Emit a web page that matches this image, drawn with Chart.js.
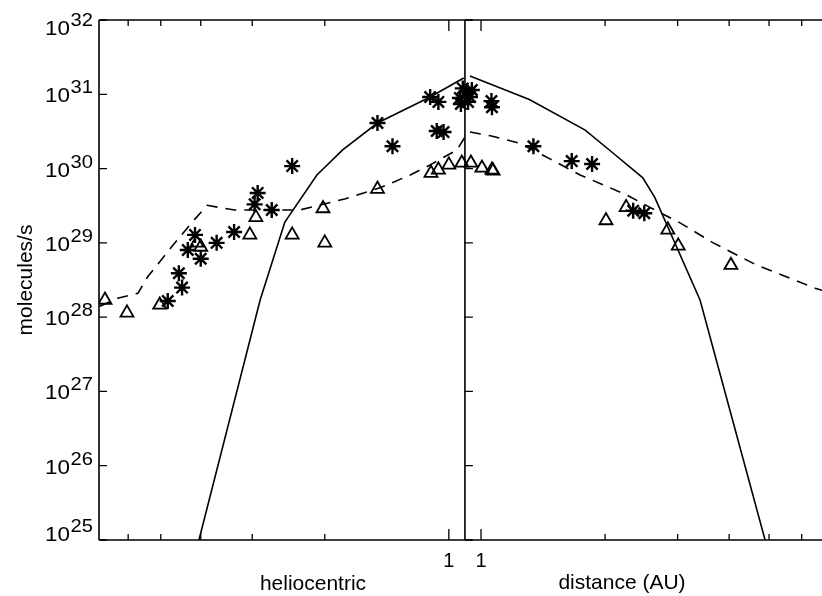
<!DOCTYPE html>
<html>
<head>
<meta charset="utf-8">
<script src="https://cdn.jsdelivr.net/npm/chart.js@4.4.0/dist/chart.umd.min.js"></script>
<style>
  html, body { margin: 0; padding: 0; background: #fff; overflow: hidden; }
  #myChart { display: block; }
</style>
</head>
<body>
<canvas id="myChart" width="822" height="596"></canvas>
<script>
// perihelion distance (AU): both halves of the x axis start from it
const perihelion = 0.914;

// model, solid line (r in AU, Q in molecules/s)
const modelPreR = [0.92, 1.11, 1.49, 1.81, 2.09, 2.50, 2.87, 4.04];
const modelPreQ = [1.66e31, 9.2e30, 4.1e30, 1.78e30, 8.2e29, 1.91e29, 1.7e28, 1e25];
const modelPostR = [0.94, 1.31, 1.79, 2.09, 2.47, 2.64, 3.40, 4.89];
const modelPostQ = [1.76e31, 8.5e30, 3.3e30, 1.62e30, 7.5e29, 4.1e29, 1.7e28, 1e25];

// dashed line
const fitPreR = [0.916, 0.956, 1.11, 1.24, 1.47, 1.79, 2.30, 3.31, 3.86, 4.21, 4.62, 5.38, 5.68, 6.36, 7.07];
const fitPreQ = [2.6e30, 1.78e30, 1.12e30, 8.2e29, 5.5e29, 3.9e29, 2.77e29, 2.77e29, 3.2e29, 1.86e29, 1.0e29, 3.5e28, 2.1e28, 1.8e28, 1.38e28];
const fitPostR = [0.94, 1.06, 1.24, 1.47, 1.74, 2.26, 2.57, 3.04, 3.66, 4.67, 6.47, 6.72];
const fitPostQ = [3.1e30, 2.75e30, 2.2e30, 1.35e30, 8.2e29, 4.4e29, 3.0e29, 1.86e29, 1.0e29, 5.0e28, 2.45e28, 2.3e28];

// asterisks
const starPreR = [2.40, 2.91, 2.96, 2.69, 3.32, 3.66, 4.13, 4.30, 4.00, 4.52, 4.44, 4.81, 1.49, 1.37, 1.11, 1.06, 1.07, 1.03, 0.94, 0.925, 0.935];
const starPreQ = [1.08e30, 4.7e29, 3.3e29, 2.77e29, 1.4e29, 1.0e29, 1.28e29, 8.0e28, 6.1e28, 3.9e28, 2.5e28, 1.65e28, 4.1e30, 2.0e30, 9.2e30, 7.9e30, 3.2e30, 3.1e30, 8.9e30, 1.2e31, 7.4e30];
const starPostR = [0.925, 0.94, 0.95, 0.93, 1.06, 1.063, 1.34, 1.66, 1.86, 2.34, 2.49];
const starPostQ = [1.07e31, 9.2e30, 1.14e31, 7.9e30, 8.1e30, 6.7e30, 2.0e30, 1.26e30, 1.15e30, 2.7e29, 2.5e29];

// triangles
const triPreR = [6.83, 6.04, 5.03, 4.09, 4.00, 3.04, 2.94, 2.40, 2.02, 2.00, 1.49, 1.105, 1.06, 1.00, 0.93];
const triPreQ = [1.7e28, 1.14e28, 1.46e28, 1.0e29, 8.8e28, 1.28e29, 2.2e29, 1.28e29, 2.9e29, 1.0e29, 5.3e29, 8.7e29, 9.6e29, 1.12e30, 1.19e30];
const triPostR = [0.945, 1.005, 1.063, 1.07, 2.01, 2.25, 2.84, 3.01, 4.04];
const triPostQ = [1.19e30, 1.02e30, 9.6e29, 9.3e29, 2.0e29, 3.0e29, 1.5e29, 9.1e28, 5.0e28];

const yTickExp = [25, 26, 27, 28, 29, 30, 31, 32];
const xTickR = [1, 2, 3, 4, 5, 6];
const xLabelR = [1];

const FONT = '"Liberation Sans", Arial, Helvetica, sans-serif';

// pre-perihelion goes to the left, post-perihelion to the right
function toU(r, side) {
    return side * Math.log10(r / perihelion);
}

function pontos(rs, qs, side) {
    const out = [];
    for (let i = 0; i < rs.length; i++) {
        out.push({ x: toU(rs[i], side), y: qs[i] });
    }
    return out;
}

const axesPlugin = {
    id: 'axesPlugin',
    afterDraw(chart) {
        const ctx = chart.ctx;
        const a = chart.chartArea;
        const sx = chart.scales.x;
        const sy = chart.scales.y;
        const mid = sx.getPixelForValue(0);

        ctx.save();
        ctx.strokeStyle = '#000';
        ctx.lineWidth = 1.6;
        ctx.beginPath();
        ctx.moveTo(a.left, a.top); ctx.lineTo(a.right, a.top);
        ctx.moveTo(a.left, a.bottom); ctx.lineTo(a.right, a.bottom);
        ctx.moveTo(a.left, a.top); ctx.lineTo(a.left, a.bottom);
        ctx.moveTo(mid, a.top); ctx.lineTo(mid, a.bottom);
        ctx.stroke();

        // inward ticks
        ctx.lineWidth = 1.3;
        ctx.beginPath();
        yTickExp.forEach(function (e) {
            const py = sy.getPixelForValue(Math.pow(10, e));
            ctx.moveTo(a.left, py); ctx.lineTo(a.left + 8, py);
            ctx.moveTo(mid, py); ctx.lineTo(mid + 8, py);
        });
        [-1, 1].forEach(function (side) {
            xTickR.forEach(function (r) {
                const px = sx.getPixelForValue(toU(r, side));
                const len = r === 1 ? 11 : 6;
                ctx.moveTo(px, a.bottom); ctx.lineTo(px, a.bottom - len);
                ctx.moveTo(px, a.top); ctx.lineTo(px, a.top + len);
            });
        });
        ctx.stroke();

        // y tick labels 10^n, a bit wider like the printed original
        ctx.fillStyle = '#000';
        ctx.textAlign = 'left';
        ctx.textBaseline = 'alphabetic';
        yTickExp.forEach(function (e) {
            const py = sy.getPixelForValue(Math.pow(10, e));
            let base = py + 8;
            if (base < a.top + 15) base = a.top + 15;
            if (base > a.bottom + 1) base = a.bottom + 1;
            ctx.save();
            ctx.translate(45, base);
            ctx.scale(1.12, 1);
            ctx.font = '20px ' + FONT;
            ctx.fillText('10', 0, 0);
            const w = ctx.measureText('10').width;
            ctx.font = '18px ' + FONT;
            ctx.fillText(String(e), w + 0.5, -9);
            ctx.restore();
        });

        // x tick labels
        ctx.font = '20px ' + FONT;
        ctx.textAlign = 'center';
        [-1, 1].forEach(function (side) {
            xLabelR.forEach(function (r) {
                const px = sx.getPixelForValue(toU(r, side));
                ctx.fillText(String(r), px, 567);
            });
        });

        // axis titles
        ctx.font = '21px ' + FONT;
        ctx.fillText('heliocentric', 313, 590);
        ctx.fillText('distance (AU)', 622, 589);

        ctx.save();
        ctx.translate(32, (a.top + a.bottom) / 2);
        ctx.rotate(-Math.PI / 2);
        ctx.fillText('molecules/s', 0, 0);
        ctx.restore();

        ctx.restore();
    }
};

const linha = { showLine: true, borderColor: '#000', borderWidth: 1.6, pointRadius: 0, fill: false };
const tracejada = Object.assign({}, linha, { borderDash: [11, 8] });
const estrela = { showLine: false, pointStyle: 'star', pointRadius: 8, borderColor: '#000', pointBorderWidth: 2.4, backgroundColor: '#000' };
const triangulo = { showLine: false, pointStyle: 'triangle', pointRadius: 7.5, borderColor: '#000', pointBorderWidth: 1.8, backgroundColor: 'rgba(0,0,0,0)' };

const dados = {
    datasets: [
        Object.assign({ label: 'model pre', data: pontos(modelPreR, modelPreQ, -1) }, linha),
        Object.assign({ label: 'model post', data: pontos(modelPostR, modelPostQ, 1) }, linha),
        Object.assign({ label: 'fit pre', data: pontos(fitPreR, fitPreQ, -1) }, tracejada),
        Object.assign({ label: 'fit post', data: pontos(fitPostR, fitPostQ, 1) }, tracejada),
        Object.assign({ label: 'stars pre', data: pontos(starPreR, starPreQ, -1) }, estrela),
        Object.assign({ label: 'stars post', data: pontos(starPostR, starPostQ, 1) }, estrela),
        Object.assign({ label: 'triangles pre', data: pontos(triPreR, triPreQ, -1) }, triangulo),
        Object.assign({ label: 'triangles post', data: pontos(triPostR, triPostQ, 1) }, triangulo)
    ]
};

const config = {
    type: 'scatter',
    data: dados,
    options: {
        responsive: false,
        animation: false,
        devicePixelRatio: 1,
        layout: { autoPadding: false, padding: { left: 99, top: 20, right: 0, bottom: 56 } },
        plugins: { legend: { display: false }, tooltip: { enabled: false } },
        scales: {
            x: { type: 'linear', min: -0.888, max: 0.8665, display: false },
            y: { type: 'logarithmic', min: 1e25, max: 1e32, display: false }
        }
    },
    plugins: [axesPlugin]
};

const ctx = document.getElementById('myChart');
const myChart = new Chart(ctx, config);
</script>
</body>
</html>
